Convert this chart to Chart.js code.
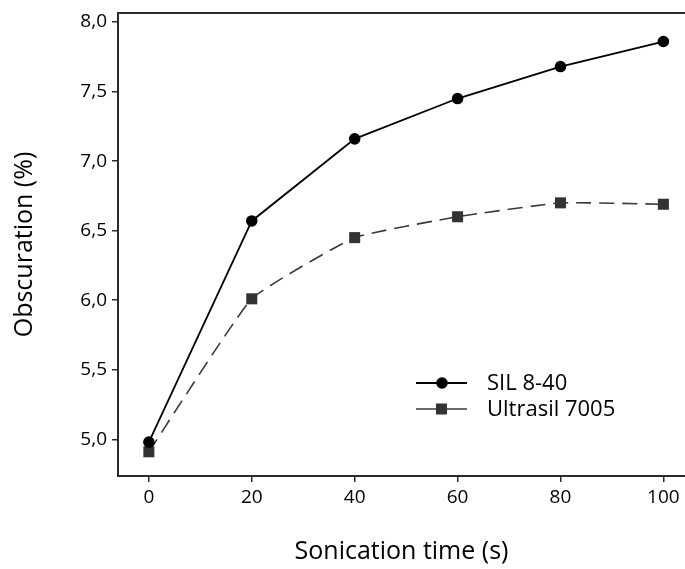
<!DOCTYPE html>
<html>
<head>
<meta charset="utf-8">
<script src="https://cdn.jsdelivr.net/npm/chart.js@4.4.1/dist/chart.umd.min.js"></script>
<style>
  html, body { margin: 0; padding: 0; background: #fff; }
  #wrap { width: 685px; height: 569px; }
</style>
</head>
<body>
<div id="wrap"><canvas id="chart" width="685" height="569"></canvas></div>
<script>
// data
const times = [0, 20, 40, 60, 80, 100];
const sil840 = [4.98, 6.57, 7.16, 7.45, 7.68, 7.86];
const ultrasil = [4.91, 6.01, 6.45, 6.60, 6.70, 6.69];
const seriesNames = ['SIL 8-40', 'Ultrasil 7005'];
const xTicks = [0, 20, 40, 60, 80, 100];
const yTicks = [5.0, 5.5, 6.0, 6.5, 7.0, 7.5, 8.0];

const FONT = "'Open Sans', 'Noto Sans', sans-serif";
const AXIS = '#2b2b2b';

function toPoints(values) {
    return times.map(function(t, i) { return { x: t, y: values[i] }; });
}

// legend drawn inside the plot, plus the top frame line
const framePlugin = {
    id: 'frame',
    afterDraw: function(chart) {
        const ctx = chart.ctx;
        const area = chart.chartArea;
        ctx.save();
        ctx.strokeStyle = AXIS;
        ctx.lineWidth = 2;
        ctx.beginPath();
        ctx.moveTo(area.left - 1, area.top);
        ctx.lineTo(area.right, area.top);
        ctx.stroke();

        const lx = area.left + 298;
        const ly = area.top + 370;
        chart.data.datasets.forEach(function(ds, i) {
            const y = ly + i * 26;
            ctx.strokeStyle = ds.borderColor;
            ctx.lineWidth = ds.borderWidth;
            ctx.setLineDash([]);
            ctx.beginPath();
            ctx.moveTo(lx, y);
            ctx.lineTo(lx + 51, y);
            ctx.stroke();
            ctx.fillStyle = ds.pointBackgroundColor;
            if (ds.pointStyle === 'circle') {
                ctx.beginPath();
                ctx.arc(lx + 26, y, ds.pointRadius, 0, Math.PI * 2);
                ctx.fill();
            } else {
                ctx.fillRect(lx + 20, y - 5.5, 11, 11);
            }
            ctx.fillStyle = '#000';
            ctx.font = '22px ' + FONT;
            ctx.textAlign = 'left';
            ctx.textBaseline = 'middle';
            ctx.fillText(ds.label, lx + 71, y + 1);
        });
        ctx.restore();
    }
};

new Chart(document.getElementById('chart').getContext('2d'), {
    type: 'line',
    data: {
        datasets: [{
            label: seriesNames[0],
            data: toPoints(sil840),
            borderColor: '#000',
            borderWidth: 1.8,
            pointStyle: 'circle',
            pointRadius: 5.8,
            pointBackgroundColor: '#000',
            pointBorderWidth: 0,
            tension: 0
        }, {
            label: seriesNames[1],
            data: toPoints(ultrasil),
            borderColor: '#3a3a3a',
            borderWidth: 1.6,
            borderDash: [15, 8],
            pointStyle: 'rect',
            pointRadius: 7.8,
            pointBackgroundColor: '#333',
            pointBorderWidth: 0,
            tension: 0.12
        }]
    },
    options: {
        responsive: false,
        animation: false,
        layout: { autoPadding: false, padding: { top: 13, right: 0, left: 0, bottom: 0 } },
        plugins: {
            legend: { display: false },
            tooltip: { enabled: false }
        },
        scales: {
            x: {
                type: 'linear',
                min: -6,
                max: 104.2,
                afterBuildTicks: function(scale) {
                    scale.ticks = xTicks.map(function(v) { return { value: v }; });
                },
                afterFit: function(scale) {
                    scale.height = 93;
                    scale.paddingLeft = 0;
                    scale.paddingRight = 0;
                },
                grid: { drawOnChartArea: false, drawTicks: true, tickLength: 6, color: AXIS, lineWidth: 1.5 },
                border: { display: true, color: AXIS, width: 2 },
                ticks: { color: '#000', font: { family: FONT, size: 19 }, padding: 4, maxRotation: 0 },
                title: {
                    display: true,
                    text: 'Sonication time (s)',
                    color: '#000',
                    font: { family: FONT, size: 25 },
                    padding: { top: 0, bottom: 2 }
                }
            },
            y: {
                min: 4.736,
                max: 8.065,
                afterBuildTicks: function(scale) {
                    scale.ticks = yTicks.map(function(v) { return { value: v }; });
                },
                afterFit: function(scale) {
                    scale.width = 118;
                    scale.paddingTop = 0;
                    scale.paddingBottom = 0;
                },
                grid: { drawOnChartArea: false, drawTicks: true, tickLength: 6, color: AXIS, lineWidth: 1.5 },
                border: { display: true, color: AXIS, width: 2 },
                ticks: {
                    color: '#000',
                    font: { family: FONT, size: 19 },
                    padding: 5,
                    callback: function(v) { return v.toFixed(1).replace('.', ','); }
                },
                title: {
                    display: true,
                    text: 'Obscuration (%)',
                    color: '#000',
                    font: { family: FONT, size: 25 },
                    padding: { top: 10, bottom: 0 }
                }
            }
        }
    },
    plugins: [framePlugin]
});
</script>
</body>
</html>
